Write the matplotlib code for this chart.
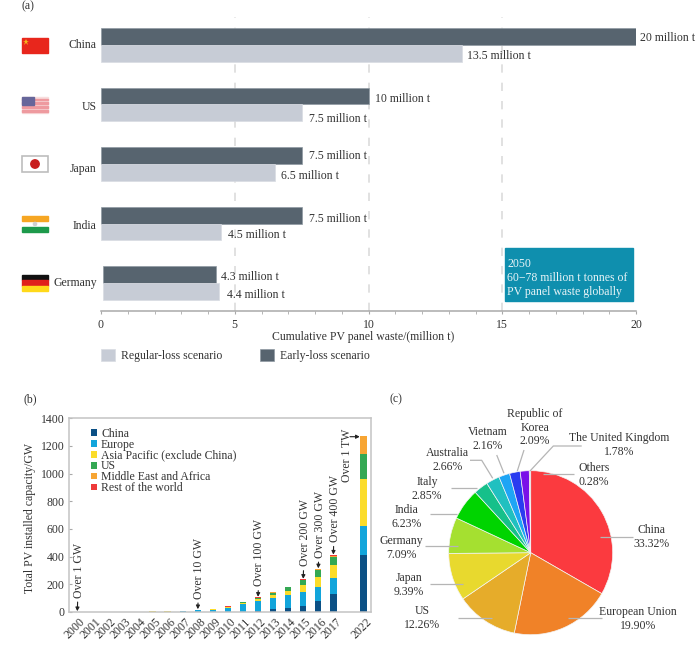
import matplotlib
matplotlib.use("Agg")
import matplotlib.pyplot as plt
from matplotlib.patches import Rectangle, Circle
from matplotlib.ticker import MultipleLocator
import numpy as np

plt.rcParams['font.family'] = ['Liberation Serif', 'DejaVu Serif']
plt.rcParams['font.size'] = 8.5

W, H = 700, 653
TEXT = '#333333'
SPINE = '#a9a9a9'

# Panel (a): cumulative PV panel waste by 2050
countries = ['China', 'US', 'Japan', 'India', 'Germany']
early_loss = [20, 10, 7.5, 7.5, 4.3]
regular_loss = [13.5, 7.5, 6.5, 4.5, 4.4]
bar_start = [0, 0, 0, 0, 0.08]

# Panel (b): installed capacity by region, GW
years = ['2000', '2001', '2002', '2003', '2004', '2005', '2006', '2007', '2008',
         '2009', '2010', '2011', '2012', '2013', '2014', '2015', '2016', '2017', '2022']
cap_china = [0, 0, 0, 0, 0, 0, 0, 0.1, 0.2, 0.5, 1, 3, 8, 20, 30, 45, 77, 130, 414]
cap_europe = [0.2, 0.3, 0.5, 1, 1.5, 2.5, 3.5, 5, 11, 17, 30, 52, 69, 80, 90, 97, 103, 115, 211]
cap_apac = [0.5, 0.7, 0.9, 1.1, 1.5, 1.8, 2.1, 2.4, 2.6, 3, 5, 8, 18, 25, 34, 53, 70, 92, 337]
cap_us = [0.1, 0.1, 0.2, 0.3, 0.4, 0.5, 0.6, 0.8, 1.2, 1.7, 3, 6, 8, 15, 24, 36, 53, 60, 178]
cap_mea = [0, 0, 0, 0, 0, 0, 0, 0, 0.1, 0.1, 0.3, 0.5, 1, 2, 2, 3, 6, 10, 130]
cap_rest = [0.2, 0.2, 0.2, 0.2, 0.2, 0.2, 0.3, 0.3, 0.4, 0.4, 0.5, 0.8, 1, 1, 1, 1, 2, 3, 3]
regions = ['China', 'Europe', 'Asia Pacific (exclude China)', 'US',
           'Middle East and Africa', 'Rest of the world']
region_colors = ['#0b5085', '#12a5db', '#fbdc2a', '#34a853', '#f7a533', '#ee3a3a']
milestones = {'2000': 'Over 1 GW', '2008': 'Over 10 GW', '2012': 'Over 100 GW',
              '2015': 'Over 200 GW', '2016': 'Over 300 GW', '2017': 'Over 400 GW'}

# Panel (c): share of installed capacity
share_names = ['China', 'European Union', 'US', 'Japan', 'Germany', 'India', 'Italy',
               'Australia', 'Vietnam', 'Republic of\nKorea', 'The United Kingdom', 'Others']
shares = [33.32, 19.90, 12.26, 9.39, 7.09, 6.23, 2.85, 2.66, 2.16, 2.09, 1.78, 0.28]
share_colors = ['#fb3a3f', '#f08228', '#e6ac2a', '#e8d92e', '#a5e030', '#00d400',
                '#16c08a', '#20c0c0', '#1ea5f5', '#2a3cf0', '#7a10e8', '#c8a8b8']

fig = plt.figure(figsize=(W / 100, H / 100), dpi=100)


def axes_px(left, top, right, bottom, **kw):
    """Create axes from a box given in figure pixels, origin at the top left."""
    return fig.add_axes([left / W, 1 - bottom / H, (right - left) / W, (bottom - top) / H], **kw)


# Overlay in pixel units for flags, panel letters and pie call-outs
ov = axes_px(0, 0, W, H, zorder=5)
ov.set_xlim(0, W)
ov.set_ylim(H, 0)
ov.axis('off')
ov.patch.set_alpha(0)

# ---------- (a) ----------
ax = axes_px(101, 17, 636, 311)
ax.set_xlim(0, 20)
ax.set_ylim(4.47, -0.47)
ypos = np.arange(len(countries))
h = 0.278
starts = np.array(bar_start)
early_bars = ax.barh(ypos - h / 2, np.array(early_loss) - starts, height=h, left=starts,
                     color='#57646f', edgecolor='#8f9aa3', linewidth=0.5, zorder=3,
                     label='Early-loss scenario')
regular_bars = ax.barh(ypos + h / 2, np.array(regular_loss) - starts, height=h, left=starts,
                       color='#c7ccd6', edgecolor='#d8dbe2', linewidth=0.5, zorder=3,
                       label='Regular-loss scenario')
for x in (5, 10, 15):
    ax.axvline(x, color='#dcdcdc', lw=1.2, dashes=(5, 6), zorder=1)

for spine in ('top', 'right', 'left'):
    ax.spines[spine].set_visible(False)
ax.spines['bottom'].set_color(SPINE)
ax.spines['bottom'].set_linewidth(1.1)
ax.xaxis.set_major_locator(MultipleLocator(5))
ax.xaxis.set_minor_locator(MultipleLocator(1))
ax.tick_params(axis='x', which='both', color=SPINE, length=2.2, direction='out', labelcolor=TEXT, pad=3.5)
ax.set_yticks([])
ax.set_xlabel('Cumulative PV panel waste/(million t)', color=TEXT)
ax.xaxis.set_label_coords((363 - 101) / 535, -20 / 294)

early_pad = [3, 5, 5.5, 5.5, 3.5]
early_dy = [-1, -2.2, 0, -3, -1.5]
regular_pad = [3.5, 5, 4.5, 5, 6]
regular_dy = [-1.8, -4.5, -2.5, -2.5, -2.5]
label_shift = [0, 2, 3.5, 1.5, 0]
for i, c in enumerate(countries):
    ax.annotate(f'{early_loss[i]:g} million t', (early_loss[i], i - h / 2), xytext=(early_pad[i], early_dy[i]),
                textcoords='offset points', va='center', color=TEXT, annotation_clip=False, zorder=6)
    ax.annotate(f'{regular_loss[i]:g} million t', (regular_loss[i], i + h / 2), xytext=(regular_pad[i], regular_dy[i]),
                textcoords='offset points', va='center', color=TEXT, annotation_clip=False, zorder=6)
    ax.annotate(c, (0, i), xytext=(-3, -label_shift[i]), textcoords='offset points',
                ha='right', va='center', color=TEXT, annotation_clip=False)

ax.legend(handles=[regular_bars, early_bars], ncol=2, frameon=False, loc='upper left',
          bbox_to_anchor=(0, -0.129), handlelength=1.15, handleheight=1.25,
          handletextpad=0.55, columnspacing=3.2, borderpad=0, borderaxespad=0, labelcolor=TEXT)

ax.text(15.18, 4.25, '2050\n60\u221278 million t tonnes of\nPV panel waste globally', color='#e8f4f7',
        va='bottom', ha='left', linespacing=1.22, zorder=6)
ax.add_patch(Rectangle((15.12, 3.41), 4.78, 0.89, color='#0f8fae', zorder=5))

# Flags
FL, FR = 21.5, 48
ov.add_patch(Rectangle((FL, 38), FR - FL, 15, color='#e8261c'))
ov.plot([26], [42], marker='*', ms=5, color='#f5b51c', mew=0)
ov.add_patch(Rectangle((FL, 97), FR - FL, 16, color='#f8dede'))
for k in range(4):
    ov.add_patch(Rectangle((FL, 98.5 + k * 3.8), FR - FL, 1.8, color='#ee9a9f'))
ov.add_patch(Rectangle((FL, 97), 12.5, 8, color='#66669a'))
ov.add_patch(Rectangle((FL, 156), FR - FL, 15.5, fc='white', ec='#bdbdbd', lw=1.2))
ov.add_patch(Circle((35, 164), 4.2, color='#c81e1e'))
ov.add_patch(Rectangle((FL, 216), FR - FL, 5.2, color='#f6a623'))
ov.add_patch(Rectangle((FL, 226.5), FR - FL, 5, color='#1d9a4b'))
ov.add_patch(Circle((35, 224), 1.6, color='#cfcfcf'))
for k, col in enumerate(['#111111', '#e0201c', '#ffd91a']):
    ov.add_patch(Rectangle((FL, 275 + k * 5.4), FR - FL, 5.4, color=col))

# ---------- (b) ----------
bx = axes_px(69, 418.3, 371, 612)
slot = np.array([0, 1, 2, 3, 4, 5, 6, 7, 8, 9, 10, 11, 12, 13, 14, 15, 16, 17, 19])
stack = [cap_china, cap_europe, cap_apac, cap_us, cap_mea, cap_rest]
bottom = np.zeros(len(years))
for vals, name, col in zip(stack, regions, region_colors):
    bx.bar(slot, vals, width=0.42, bottom=bottom, color=col, label=name, zorder=2)
    bottom = bottom + np.array(vals)
totals = bottom

bx.set_xlim(-0.55, 19.5)
bx.set_ylim(0, 1400)
bx.set_xticks(slot)
bx.set_xticklabels(years, rotation=45, ha='right', rotation_mode='anchor', color=TEXT)
bx.set_yticks(np.arange(0, 1401, 200))
bx.tick_params(axis='x', length=0, pad=3)
bx.tick_params(axis='y', length=2, direction='in', color=SPINE, labelcolor=TEXT, pad=3)
for lab in bx.get_xticklabels():
    lab.set_transform(lab.get_transform() + matplotlib.transforms.ScaledTranslation(1.5 / 72, 0, fig.dpi_scale_trans))
for s in bx.spines.values():
    s.set_color('#c4c4c4')
    s.set_linewidth(1.1)
bx.set_ylabel('Total PV installed capacity/GW', color=TEXT)
bx.yaxis.set_label_coords(-33 / 302, (612 - 518) / 193.7)

bx.legend(loc='upper left', bbox_to_anchor=(0.073, 0.95), frameon=False, handlelength=0.5,
          handleheight=0.5, handletextpad=0.35, labelspacing=-0.1, borderpad=0, borderaxespad=0,
          labelcolor=TEXT)

gap_px = {'2000': 14, '2008': 11, '2012': 11, '2015': 13, '2016': 11, '2017': 13}
for yr, txt in milestones.items():
    i = years.index(yr)
    bx.annotate(txt, xy=(slot[i], totals[i]), xytext=(1, gap_px[yr] * 0.72), textcoords='offset points',
                rotation=90, ha='center', va='bottom', color=TEXT, zorder=4,
                arrowprops=dict(arrowstyle='-|>,head_width=0.13,head_length=0.25', color='#222222', lw=0.8,
                                shrinkA=1, shrinkB=0.5))
last = len(years) - 1
bx.annotate('', xy=(slot[last] - 0.25, totals[last] - 6), xytext=(-7, 0), textcoords='offset points',
            arrowprops=dict(arrowstyle='-|>,head_width=0.13,head_length=0.25', color='#222222', lw=0.8,
                            shrinkA=0, shrinkB=0))
bx.annotate('Over 1 TW', xy=(slot[last], totals[last]), xytext=(-11.5, 5.5), textcoords='offset points',
            rotation=90, ha='center', va='top', color=TEXT)

# ---------- (c) ----------
px = axes_px(530.7 - 82, 552.7 - 82, 530.7 + 82, 552.7 + 82)
px.pie(shares, colors=share_colors, startangle=90, counterclock=False, radius=1,
       wedgeprops=dict(edgecolor='#f4f4f4', linewidth=0.5))
px.set_xlim(-1, 1)
px.set_ylim(-1, 1)

label_xy = [(651.7, 537), (637.7, 619), (422, 617.7), (409, 585), (401.7, 547.7), (406.7, 517),
            (427, 488.7), (447.7, 459.7), (487.7, 438.7), (534.7, 427.7), (619.3, 445), (594, 474.7)]
for name, val, (lx, ly) in zip(share_names, shares, label_xy):
    ov.text(lx, ly, f'{name}\n{val:.2f}%', ha='center', va='center', color=TEXT, linespacing=1.2)

leaders = [
    [(600, 537.3), (633, 537.3)], [(568.3, 618.3), (601.7, 618.3)], [(458.3, 618.3), (491.7, 618.3)],
    [(430, 584.3), (462.7, 584.3)], [(425, 545.7), (457.7, 545.7)], [(430, 514), (456.7, 514)],
    [(450.7, 488.3), (476.7, 488.3)], [(470, 460.3), (481.7, 460.3), (492.7, 478.3)],
    [(496.7, 455), (504, 473.3)], [(524, 450), (517.3, 471)],
    [(581.7, 446), (553.3, 446), (530, 471)], [(574, 474), (543.3, 474)],
]
for path in leaders:
    xs, ys = zip(*path)
    ov.plot(xs, ys, color='#b5b5b5', lw=0.9, solid_capstyle='butt')

# Panel letters
for letter, lx, ly in (('(a)', 22, 6), ('(b)', 23, 399), ('(c)', 390, 399)):
    ov.text(lx, ly, letter, color=TEXT, va='center')

fig.savefig('out.png', dpi=100, facecolor='white')
